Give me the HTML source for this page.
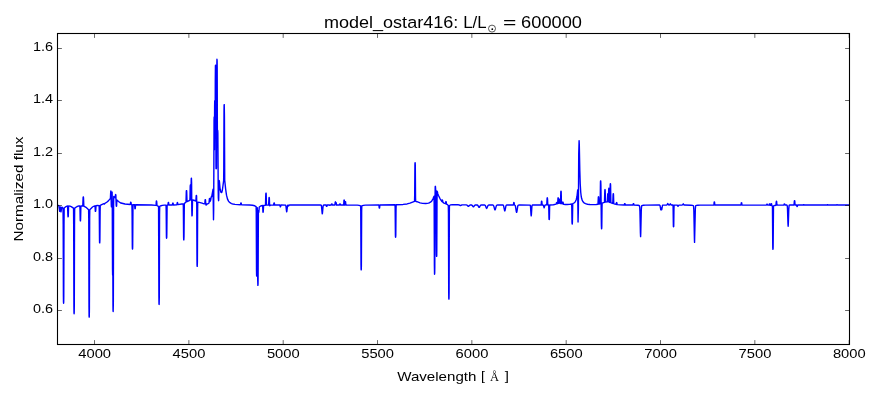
<!DOCTYPE html>
<html><head><meta charset="utf-8"><style>
html,body{margin:0;padding:0;background:#fff;width:880px;height:400px;overflow:hidden}
svg{display:block}
text{font-family:"Liberation Sans",sans-serif;fill:#000}
.t{will-change:transform}
</style></head><body>
<svg width="880" height="400" viewBox="0 0 880 400">
<rect x="0" y="0" width="880" height="400" fill="#fff"/>
<path d="M57.00,205.35 58.50,205.53 58.87,205.91 59.70,211.40 59.88,210.78 60.34,206.99 61.00,211.90 61.79,207.25 61.92,207.10 62.14,207.15 62.96,207.91 63.04,208.17 63.19,224.11 63.41,296.12 63.49,302.27 63.60,303.20 63.71,302.24 63.79,296.13 64.01,224.14 64.16,208.19 64.24,207.95 66.00,206.54 67.00,206.16 67.50,206.06 67.58,206.15 67.88,215.23 68.06,216.80 68.21,216.69 68.29,215.99 68.51,207.78 68.66,206.01 70.00,206.15 71.20,206.56 73.46,208.05 73.54,208.31 73.69,225.98 73.91,306.11 73.99,312.77 74.10,313.80 74.21,312.77 74.29,305.95 74.51,225.67 74.66,208.30 74.74,208.05 77.10,206.50 78.40,206.07 79.84,205.91 79.99,208.41 80.21,219.79 80.29,220.76 80.36,220.90 80.47,220.87 80.62,218.70 80.89,206.31 81.00,205.86 82.78,205.94 83.10,197.73 83.26,196.89 83.41,197.02 83.50,197.81 83.83,206.17 86.00,207.31 88.60,209.73 88.75,218.30 89.00,307.00 89.09,316.06 89.20,317.10 89.31,316.05 89.39,309.12 89.65,218.28 89.80,209.69 92.50,207.03 93.70,206.28 94.94,205.81 95.09,206.72 95.30,210.91 95.39,211.37 95.54,211.39 95.70,210.81 96.03,205.59 97.50,205.42 99.14,205.65 99.29,211.88 99.50,239.41 99.59,242.56 99.62,242.84 99.74,242.89 99.89,240.08 100.11,211.61 100.26,205.43 101.70,204.62 103.84,203.72 103.99,203.76 104.21,204.13 104.51,204.05 104.90,203.27 106.70,202.25 108.10,201.13 110.28,198.61 110.45,197.83 110.69,191.98 110.86,191.00 111.00,192.82 111.29,205.28 111.46,206.84 111.61,204.46 111.85,193.14 111.92,192.26 112.11,192.11 112.26,201.35 112.51,269.15 112.62,274.87 112.74,274.98 112.79,274.69 112.86,272.04 112.97,305.00 113.04,310.38 113.16,311.50 113.34,302.98 113.60,205.49 113.75,196.44 114.24,196.78 115.20,197.80 115.51,194.74 115.61,194.60 115.84,194.98 116.19,205.03 116.29,205.99 116.47,206.28 116.60,205.80 116.83,200.81 116.96,200.07 118.50,201.51 120.89,203.05 125.00,203.99 130.24,204.51 130.39,204.12 130.61,202.36 130.69,202.22 130.88,202.21 131.03,202.56 131.29,204.50 131.93,204.65 132.09,212.12 132.31,245.79 132.39,248.67 132.50,249.10 132.61,248.67 132.69,245.81 132.95,208.18 133.10,204.67 134.60,204.79 134.91,208.49 134.99,208.76 135.14,208.80 135.29,208.50 135.51,205.42 135.66,204.75 151.50,205.03 155.94,205.37 156.09,204.65 156.31,201.29 156.39,201.01 156.57,201.03 156.72,201.73 157.00,205.57 158.46,206.32 158.57,207.26 158.91,297.12 158.99,303.41 159.03,304.21 159.14,304.39 159.29,297.12 159.55,214.18 159.70,206.37 161.10,205.71 162.30,205.39 164.30,205.16 166.04,205.16 166.19,210.68 166.41,235.75 166.49,237.87 166.60,238.20 166.75,237.18 166.82,233.35 167.10,205.76 167.20,205.07 167.91,204.97 168.25,202.48 168.47,202.40 168.59,202.59 168.85,204.82 169.00,205.03 172.38,204.96 172.68,203.38 172.86,203.10 173.09,203.23 173.43,204.93 176.84,204.74 176.99,204.38 177.20,202.82 177.44,202.60 177.59,202.73 177.81,204.28 177.96,204.61 181.70,203.96 183.20,203.85 183.35,206.70 183.61,237.28 183.69,239.59 183.72,239.86 183.84,239.88 184.00,236.40 184.32,203.71 184.40,203.34 185.90,202.21 186.00,201.91 186.28,192.38 186.35,191.03 186.50,190.60 186.61,190.65 186.69,191.33 187.03,201.46 187.10,201.52 189.84,200.37 189.99,197.78 190.20,186.48 190.35,185.02 190.51,185.13 190.60,186.39 190.90,199.69 191.20,180.28 191.29,178.42 191.34,178.22 191.44,178.23 191.59,182.48 191.81,211.04 191.96,215.86 192.11,215.75 192.19,214.73 192.53,200.19 192.68,200.05 194.00,200.26 195.88,201.08 196.22,195.60 196.30,195.36 196.47,195.47 196.60,196.16 196.75,204.50 197.00,260.25 197.07,265.38 197.22,266.41 197.39,261.69 197.65,207.31 197.80,202.22 199.30,202.34 202.90,203.45 204.74,203.84 204.89,203.14 205.09,200.08 205.28,199.60 205.41,199.66 205.49,199.94 205.75,203.64 206.09,204.95 206.44,204.92 206.78,203.98 208.00,203.72 208.82,203.23 209.05,202.71 209.40,198.76 209.61,198.47 209.69,198.59 210.03,201.51 210.70,199.92 211.01,197.78 211.31,196.75 211.43,196.55 211.61,196.81 211.72,196.59 213.07,189.25 213.50,219.71 213.68,210.00 214.05,120.54 214.18,116.92 214.28,119.49 214.44,149.65 214.62,106.11 214.71,101.53 214.90,100.34 215.14,136.31 215.28,81.98 215.43,65.93 215.55,65.15 215.61,65.86 215.70,74.40 215.99,165.86 216.06,168.66 216.10,168.77 216.40,168.45 216.47,167.47 216.80,69.21 216.95,59.25 217.11,60.77 217.19,68.15 217.40,145.47 217.55,131.05 217.62,130.25 217.75,130.91 217.86,133.34 218.22,191.12 218.34,198.00 218.56,200.52 218.61,200.67 218.65,200.45 218.71,198.91 219.03,180.63 219.10,180.50 219.21,180.60 219.40,181.35 219.93,187.36 220.26,189.80 220.96,192.21 221.32,192.63 221.68,192.44 222.00,191.71 222.40,190.03 223.64,180.62 223.79,167.33 224.00,111.81 224.09,105.40 224.12,104.76 224.24,104.63 224.43,115.92 224.72,180.23 225.64,189.12 226.50,195.13 227.44,198.89 228.50,201.15 229.24,202.09 229.96,202.72 231.50,203.55 233.00,204.00 235.00,204.35 240.44,204.75 240.59,204.44 240.81,203.03 241.04,202.90 241.19,203.05 241.41,204.48 241.56,204.79 249.50,205.06 252.50,205.29 254.70,205.79 256.10,206.63 256.25,212.22 256.51,270.80 256.59,275.30 256.74,276.13 256.89,271.17 257.15,213.07 257.30,207.74 257.45,213.98 257.71,279.63 257.88,285.40 258.02,284.23 258.10,278.09 258.39,210.50 258.54,212.33 258.62,212.46 258.84,212.17 259.26,207.03 260.70,205.99 262.54,205.46 262.69,206.56 262.91,211.72 263.00,212.17 263.21,212.12 263.62,205.37 265.40,205.18 265.50,204.93 265.77,194.87 265.93,193.13 266.11,193.21 266.19,193.99 266.41,203.11 266.56,205.11 268.62,205.02 268.96,198.07 269.04,197.58 269.20,197.50 269.35,198.26 269.57,204.60 269.71,205.68 269.99,205.65 270.32,205.08 273.62,205.03 273.93,203.22 274.11,202.90 274.34,203.06 274.68,205.02 279.84,205.04 280.32,206.90 280.59,206.76 280.81,205.35 280.96,205.04 285.45,205.08 285.75,205.43 285.95,206.20 286.50,211.00 286.70,211.80 286.90,211.00 287.45,206.20 287.65,205.43 287.94,205.08 288.65,205.90 289.25,205.15 289.70,205.03 320.75,205.03 321.20,205.22 321.50,206.21 322.10,212.77 322.30,213.80 322.50,212.77 323.05,206.54 323.25,205.55 323.50,205.12 323.90,205.03 326.12,205.04 326.46,206.30 326.69,206.40 326.88,206.20 327.18,205.04 329.27,205.03 329.61,205.37 329.95,205.39 330.29,205.03 331.31,204.99 331.57,204.06 331.73,203.90 332.00,204.01 332.32,205.01 334.84,205.01 334.99,204.49 335.21,202.09 335.40,201.85 335.59,202.09 335.74,203.14 335.89,202.52 336.15,202.58 336.56,205.02 339.48,205.01 339.81,203.98 340.00,203.90 340.19,203.98 340.52,205.01 343.59,205.01 343.74,204.19 343.96,200.37 344.11,200.00 344.26,200.05 344.34,200.37 344.57,204.35 344.73,205.01 344.88,204.99 344.95,204.75 345.21,201.85 345.29,201.63 345.44,201.60 345.59,201.85 345.81,204.44 345.96,205.01 357.30,205.13 359.10,205.34 360.56,205.84 360.68,206.47 360.75,210.99 361.01,265.05 361.09,269.18 361.20,269.80 361.31,269.18 361.39,265.05 361.65,210.99 361.80,205.88 363.30,205.33 365.40,205.10 378.80,204.96 378.95,205.21 379.21,207.91 379.29,208.12 379.44,208.15 379.59,207.91 379.81,205.49 379.96,204.95 395.00,204.79 395.15,207.37 395.41,234.89 395.49,236.98 395.64,237.29 395.79,234.93 396.01,210.25 396.16,204.82 403.10,204.43 407.10,203.94 410.00,203.18 414.54,201.29 414.69,194.92 414.91,165.48 414.99,162.99 415.10,162.60 415.21,162.97 415.29,165.42 415.55,198.26 415.70,201.34 417.00,201.71 420.10,202.91 422.50,203.42 425.80,203.54 428.50,203.10 429.50,202.73 430.50,202.16 431.80,200.92 433.00,198.87 434.04,196.15 434.16,203.82 434.39,265.48 434.54,274.25 434.71,272.86 434.79,267.16 435.02,198.77 435.20,186.78 435.35,186.34 435.44,186.46 435.70,190.28 435.77,190.53 435.96,190.39 436.04,190.49 436.10,191.72 436.39,248.33 436.46,254.65 436.61,256.32 436.73,255.54 436.80,250.45 437.02,199.68 437.16,191.31 437.43,191.92 437.76,193.64 438.50,195.49 440.10,198.77 441.50,200.97 441.91,201.40 442.18,200.15 442.32,200.03 442.59,200.40 442.93,202.37 444.00,203.08 445.44,203.72 445.59,203.39 445.81,201.70 445.89,201.58 446.07,201.63 446.23,202.03 446.50,204.10 447.50,204.68 448.30,205.40 448.45,212.93 448.71,292.11 448.79,298.14 448.90,299.10 449.01,298.20 449.09,292.16 449.35,213.04 449.43,206.42 449.54,205.49 450.58,204.92 452.20,204.71 458.56,204.82 459.18,204.98 460.40,205.65 461.62,205.02 462.15,204.89 466.12,204.90 467.09,205.16 468.05,206.22 468.40,206.40 468.75,206.23 469.80,205.12 470.32,204.96 471.12,204.94 471.65,205.02 472.09,205.27 473.05,206.67 473.40,206.90 473.75,206.67 474.45,205.58 474.89,205.15 475.50,204.97 476.88,204.97 477.40,205.06 477.84,205.38 478.80,207.11 479.15,207.40 479.50,207.11 480.38,205.49 480.81,205.11 481.51,204.98 484.38,204.99 484.90,205.13 485.34,205.57 486.30,208.00 486.65,208.40 487.00,208.00 487.88,205.72 488.40,205.14 489.10,204.99 492.64,205.01 493.16,205.15 493.60,205.67 493.95,206.62 494.65,209.41 495.00,210.00 495.35,209.41 496.23,206.08 496.50,205.50 496.84,205.16 497.62,205.00 502.77,205.02 503.23,205.19 503.60,205.80 504.50,210.21 504.80,210.90 505.10,210.21 505.85,206.28 506.07,205.62 506.38,205.19 507.05,205.01 513.34,205.00 513.49,204.59 513.71,202.69 513.79,202.52 513.98,202.51 514.12,202.87 514.39,204.94 515.06,205.28 515.48,206.28 516.30,211.53 516.60,212.40 516.90,211.53 517.73,206.28 518.00,205.49 518.33,205.13 519.50,205.01 530.11,205.09 530.37,205.66 530.54,206.89 531.02,214.62 531.20,215.90 531.38,214.62 531.86,206.88 532.03,205.65 532.25,205.12 532.60,205.01 541.09,204.98 541.24,204.35 541.46,201.48 541.54,201.24 541.73,201.21 541.88,201.75 542.14,204.87 542.25,204.99 543.10,205.02 543.36,205.22 544.15,207.90 544.98,205.16 545.29,205.00 546.77,204.91 547.11,198.38 547.19,197.92 547.34,197.85 547.52,198.89 547.79,204.75 547.90,204.97 548.64,205.00 548.71,205.41 549.00,218.23 549.09,219.46 549.24,219.60 549.39,218.53 549.61,207.43 549.76,204.99 553.50,204.73 556.05,204.12 556.20,203.97 556.46,202.76 556.73,202.58 556.88,202.73 557.14,203.74 557.59,203.65 557.74,202.66 557.96,198.31 558.04,197.93 558.19,197.84 558.35,198.35 558.67,203.38 558.86,203.39 558.94,203.15 559.20,199.51 559.29,199.14 559.44,199.10 559.62,199.73 559.89,203.26 559.99,203.40 560.44,203.43 560.56,202.20 560.81,192.08 560.96,191.19 561.11,191.34 561.19,192.16 561.41,201.56 561.56,203.66 562.41,203.86 562.67,202.32 562.83,202.08 563.09,202.29 563.39,204.12 563.69,204.25 565.30,204.51 567.10,204.57 569.50,204.40 571.64,204.06 571.79,207.33 572.00,222.17 572.16,224.01 572.31,223.77 572.39,222.47 572.73,203.86 572.80,203.65 574.00,203.00 574.90,202.17 575.50,201.32 576.10,200.01 576.55,198.52 577.00,196.24 577.67,189.96 578.05,221.95 578.39,208.73 578.73,153.81 579.10,140.60 579.29,144.42 579.81,170.56 580.23,183.95 580.75,192.46 581.20,196.24 581.65,198.52 582.25,200.40 583.00,201.79 584.00,202.85 585.50,203.69 587.50,204.23 589.90,204.53 593.00,204.67 596.00,204.56 597.98,204.20 598.31,197.43 598.39,196.95 598.58,196.85 598.73,197.87 599.00,203.88 599.10,204.00 600.05,203.73 600.20,201.88 600.46,182.60 600.55,181.02 600.73,180.87 600.89,184.85 601.38,225.14 601.55,228.81 601.71,228.51 601.79,226.83 602.01,207.39 602.16,203.07 604.40,202.30 604.48,202.17 604.81,190.57 604.89,189.74 605.00,189.60 605.11,189.70 605.19,190.50 605.52,201.95 605.60,202.05 607.38,201.91 607.70,194.46 607.86,193.70 608.01,193.80 608.11,194.71 608.39,201.85 608.69,189.71 608.86,188.09 609.01,188.26 609.10,189.47 609.39,201.89 609.46,202.32 609.84,202.42 609.99,199.31 610.21,185.04 610.36,183.69 610.51,183.92 610.59,185.17 610.85,201.28 611.00,202.84 612.66,203.45 612.77,203.40 613.08,195.08 613.26,193.69 613.41,193.83 613.49,194.50 613.75,203.03 613.90,203.87 616.12,204.44 616.42,202.76 616.58,202.49 616.84,202.69 617.10,204.47 617.29,204.66 620.00,204.92 624.24,205.01 624.61,203.70 624.84,203.60 625.00,203.73 625.36,205.02 632.90,205.06 633.05,204.95 633.31,203.71 633.54,203.60 633.70,203.74 634.02,205.06 637.90,205.26 639.10,205.53 639.46,205.82 639.73,207.12 639.94,211.15 640.42,232.99 640.60,236.60 640.77,232.99 641.30,209.99 641.56,206.44 641.74,205.82 641.96,205.60 643.30,205.27 645.50,205.12 659.55,205.07 659.85,205.25 660.10,205.86 660.75,209.65 660.85,209.80 660.95,209.65 661.25,207.93 661.65,209.80 661.85,209.24 662.40,205.86 662.60,205.33 662.85,205.10 666.70,205.00 667.05,204.73 667.55,203.77 667.75,203.60 667.95,203.77 668.45,204.73 668.80,205.00 669.15,205.02 669.45,204.88 670.25,203.80 671.20,204.97 672.95,205.05 673.10,206.78 673.36,225.19 673.44,226.59 673.55,226.80 673.66,226.59 673.74,225.19 673.96,208.72 674.11,205.09 677.08,205.09 677.39,205.32 678.00,206.30 678.83,205.13 682.20,205.02 682.55,204.79 683.25,203.80 683.95,204.79 684.35,205.03 690.95,205.19 692.45,205.38 693.24,205.64 693.46,205.97 693.63,206.93 693.85,210.78 694.38,238.11 694.55,242.40 695.34,208.71 695.64,205.97 695.86,205.64 696.50,205.42 697.85,205.21 700.25,205.11 713.79,205.04 713.94,204.51 714.16,202.09 714.31,201.85 714.46,201.88 714.54,202.09 714.80,204.80 714.95,205.05 740.90,205.05 741.05,204.86 741.31,202.87 741.50,202.70 741.69,202.87 741.95,204.86 742.10,205.05 766.49,205.10 766.86,204.17 767.01,204.10 767.25,204.20 767.55,205.10 768.99,205.17 769.14,204.96 769.35,204.01 769.50,203.90 769.74,204.01 770.04,205.22 770.79,205.37 770.94,205.09 771.16,203.69 771.24,203.59 771.42,203.63 771.58,203.96 771.83,205.60 772.39,206.01 772.46,207.26 772.73,242.95 772.80,247.96 772.95,249.30 773.06,248.88 773.14,246.14 773.48,206.34 773.59,205.90 774.75,205.46 775.92,205.21 776.23,201.89 776.38,201.31 776.55,201.32 776.64,201.57 776.86,204.52 777.01,205.16 783.89,205.06 784.26,203.99 784.49,203.90 784.67,204.07 784.98,205.05 786.79,205.07 787.10,205.29 787.32,206.32 787.50,208.83 787.98,223.72 788.15,226.20 788.33,223.72 788.76,209.64 789.11,205.54 789.29,205.16 789.55,205.06 794.00,205.04 794.33,201.25 794.48,200.61 794.66,200.64 794.74,200.93 795.08,205.01 796.62,205.06 796.92,206.29 797.08,206.50 797.34,206.39 797.67,205.06 803.24,205.05 803.73,204.60 803.99,204.63 804.25,205.01 804.40,205.05 826.95,205.05 827.10,205.01 827.36,204.63 827.55,204.60 827.74,204.63 828.00,205.01 828.15,205.05 836.49,205.05 836.86,204.63 837.05,204.60 837.24,204.63 837.61,205.05 849.00,205.05" fill="none" stroke="#0000ff" stroke-width="1.4" stroke-linejoin="round" stroke-linecap="butt"/>
<path d="M94.53,344.5V340.1M94.53,33.5V37.9M188.86,344.5V340.1M188.86,33.5V37.9M283.19,344.5V340.1M283.19,33.5V37.9M377.52,344.5V340.1M377.52,33.5V37.9M471.85,344.5V340.1M471.85,33.5V37.9M566.18,344.5V340.1M566.18,33.5V37.9M660.51,344.5V340.1M660.51,33.5V37.9M754.84,344.5V340.1M754.84,33.5V37.9M849.17,344.5V340.1M849.17,33.5V37.9M57.5,310.5H61.9M849.5,310.5H845.1M57.5,258.5H61.9M849.5,258.5H845.1M57.5,205.5H61.9M849.5,205.5H845.1M57.5,153.5H61.9M849.5,153.5H845.1M57.5,100.5H61.9M849.5,100.5H845.1M57.5,48.5H61.9M849.5,48.5H845.1" stroke="#000" stroke-width="0.6" fill="none"/>
<rect x="57.5" y="33.5" width="792.0" height="311.0" fill="none" stroke="#000" stroke-width="1.1"/>
<g class="t">
<text transform="translate(78.24,357.90) scale(1.1257,1)" font-size="13.1" style="font-family:&quot;Liberation Sans&quot;">4000</text>
<text transform="translate(172.57,357.90) scale(1.1257,1)" font-size="13.1" style="font-family:&quot;Liberation Sans&quot;">4500</text>
<text transform="translate(266.90,357.90) scale(1.1257,1)" font-size="13.1" style="font-family:&quot;Liberation Sans&quot;">5000</text>
<text transform="translate(361.23,357.90) scale(1.1257,1)" font-size="13.1" style="font-family:&quot;Liberation Sans&quot;">5500</text>
<text transform="translate(455.56,357.90) scale(1.1257,1)" font-size="13.1" style="font-family:&quot;Liberation Sans&quot;">6000</text>
<text transform="translate(549.89,357.90) scale(1.1257,1)" font-size="13.1" style="font-family:&quot;Liberation Sans&quot;">6500</text>
<text transform="translate(644.22,357.90) scale(1.1257,1)" font-size="13.1" style="font-family:&quot;Liberation Sans&quot;">7000</text>
<text transform="translate(738.55,357.90) scale(1.1257,1)" font-size="13.1" style="font-family:&quot;Liberation Sans&quot;">7500</text>
<text transform="translate(832.88,357.90) scale(1.1257,1)" font-size="13.1" style="font-family:&quot;Liberation Sans&quot;">8000</text>
<text transform="translate(32.99,313.05) scale(1.1033,1)" font-size="13.1" style="font-family:&quot;Liberation Sans&quot;">0.6</text>
<text transform="translate(32.99,260.65) scale(1.1033,1)" font-size="13.1" style="font-family:&quot;Liberation Sans&quot;">0.8</text>
<text transform="translate(32.99,208.25) scale(1.1033,1)" font-size="13.1" style="font-family:&quot;Liberation Sans&quot;">1.0</text>
<text transform="translate(32.99,155.85) scale(1.1033,1)" font-size="13.1" style="font-family:&quot;Liberation Sans&quot;">1.2</text>
<text transform="translate(32.99,103.45) scale(1.1033,1)" font-size="13.1" style="font-family:&quot;Liberation Sans&quot;">1.4</text>
<text transform="translate(32.99,51.05) scale(1.1033,1)" font-size="13.1" style="font-family:&quot;Liberation Sans&quot;">1.6</text>
<text transform="translate(397.20,380.75) scale(1.1718,1)" font-size="12.9" style="font-family:&quot;Liberation Sans&quot;">Wavelength</text>
<text transform="translate(480.92,380.00) scale(1.0853,1)" font-size="12.9" style="font-family:&quot;Liberation Sans&quot;">[</text>
<text transform="translate(490.07,380.50) scale(0.9285,1)" font-size="13.5" style="font-family:&quot;Liberation Serif&quot;">Å</text>
<text transform="translate(504.85,380.00) scale(1.1628,1)" font-size="12.9" style="font-family:&quot;Liberation Sans&quot;">]</text>
<text transform="translate(323.92,27.90) scale(1.0683,1)" font-size="16.9" style="font-family:&quot;Liberation Sans&quot;">model_ostar416:</text>
<text transform="translate(463.16,27.90) scale(0.9939,1)" font-size="16.9" style="font-family:&quot;Liberation Sans&quot;">L/L</text>
<text transform="translate(502.96,27.90) scale(1.3525,1)" font-size="16.9" style="font-family:&quot;Liberation Sans&quot;">=</text>
<text transform="translate(521.09,27.90) scale(1.0797,1)" font-size="16.9" style="font-family:&quot;Liberation Sans&quot;">600000</text>
<text transform="translate(23.0,241.42) rotate(-90) scale(1.1885,1)" font-size="12.8">Normalized flux</text>
</g>
<circle cx="492.0" cy="28.6" r="3.5" fill="none" stroke="#000" stroke-width="0.65"/><circle cx="492.3" cy="29.2" r="0.9" fill="#000"/>
</svg>
</body></html>
